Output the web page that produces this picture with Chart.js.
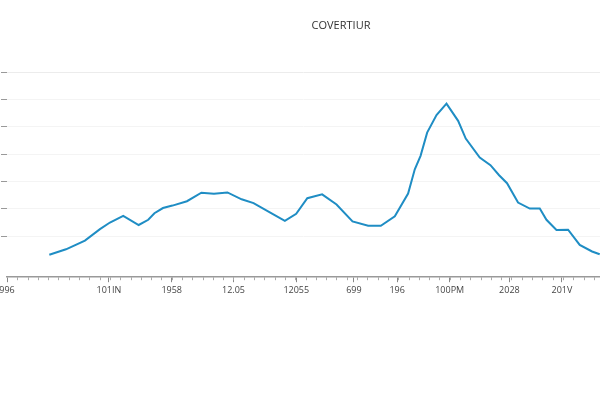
<!DOCTYPE html>
<html>
<head>
<meta charset="utf-8">
<title>COVERTIUR</title>
<script src="https://cdn.jsdelivr.net/npm/chart.js"></script>
<style>
  html, body { margin: 0; padding: 0; background: #fff; }
  #myChart { display: block; }
</style>
</head>
<body>
<canvas id="myChart" width="600" height="400"></canvas>
<script>
// x positions (axis units) and values
const xValues = [4.11, 5.73, 7.57, 9.03, 10.0, 11.29, 12.79, 13.72, 14.32, 15.15,
  16.07, 17.48, 18.88, 20.10, 21.41, 22.79, 23.95, 25.53, 26.99, 28.09,
  29.17, 30.61, 32.01, 33.56, 35.08, 36.31, 37.67, 38.96, 39.61, 40.17,
  40.81, 41.72, 42.69, 43.82, 44.56, 45.92, 46.96, 47.80, 48.57, 49.64,
  50.78, 51.75, 52.40, 53.37, 54.50, 55.63, 56.83, 57.57];
const yValues = [1.32, 1.52, 1.84, 2.26, 2.50, 2.74, 2.41, 2.60, 2.84, 3.03,
  3.12, 3.28, 3.59, 3.55, 3.60, 3.35, 3.21, 2.87, 2.56, 2.82,
  3.39, 3.53, 3.16, 2.54, 2.38, 2.38, 2.73, 3.56, 4.45, 4.94,
  5.79, 6.43, 6.85, 6.22, 5.57, 4.88, 4.60, 4.23, 3.94, 3.23,
  3.01, 3.01, 2.60, 2.23, 2.24, 1.68, 1.44, 1.34];

// tick labels on the x axis and where they sit
const tickLabels = ["996", "101IN", "1958", "12.05", "12055", "699", "196", "100PM", "2028", "201V"];
const tickPositions = [0, 9.9, 16.0, 22.0, 28.1, 33.7, 37.9, 43.0, 48.8, 53.9];
const yTicks = [2, 3, 4, 5, 6, 7, 8];

const points = xValues.map((x, i) => ({ x: x, y: yValues[i] }));

// short minor ticks along the x axis
const minorTicks = {
  id: "minorTicks",
  afterDraw(chart) {
    const xs = chart.scales.x;
    const c = chart.ctx;
    c.save();
    c.strokeStyle = "#aaa";
    c.lineWidth = 1;
    for (let v = 1; v <= Math.floor(xs.max); v++) {
      const px = Math.round(xs.getPixelForValue(v)) + 0.5;
      c.beginPath();
      c.moveTo(px, xs.top);
      c.lineTo(px, xs.top + 3);
      c.stroke();
    }
    c.restore();
  }
};

// title in the picture sits right of the plot centre
const shiftTitle = {
  id: "shiftTitle",
  afterLayout(chart) {
    if (chart.titleBlock) chart.titleBlock.left += 82;
  }
};

const ctx = document.getElementById("myChart").getContext("2d");
const myChart = new Chart(ctx, {
  type: "line",
  data: {
    datasets: [
      {
        label: "COVERTIUR",
        data: points,
        borderColor: "#1f8dc4",
        borderWidth: 2,
        pointRadius: 0,
        tension: 0,
        fill: false,
      },
    ],
  },
  options: {
    responsive: false,
    animation: false,
    layout: { padding: { left: 0, right: 0, top: 0, bottom: 101 } },
    plugins: {
      legend: { display: false },
      tooltip: { enabled: false },
      title: {
        display: true,
        text: "COVERTIUR",
        color: "#333",
        font: { family: "Open Sans", size: 11, weight: "normal" },
        padding: { top: 19, bottom: 40 },
      },
    },
    scales: {
      x: {
        type: "linear",
        position: "bottom",
        min: 0,
        max: 57.6,
        afterBuildTicks: (scale) => {
          scale.ticks = tickPositions.map((v) => ({ value: v }));
        },
        afterFit: (scale) => {
          scale.paddingLeft = 0;
          scale.paddingRight = 0;
        },
        ticks: {
          autoSkip: false,
          maxRotation: 0,
          padding: 3,
          color: "#444",
          font: { family: "Open Sans", size: 9 },
          callback: (value) => {
            const i = tickPositions.indexOf(value);
            return i >= 0 ? tickLabels[i] : "";
          },
        },
        grid: {
          drawOnChartArea: false,
          tickLength: 5,
          tickColor: "#888",
        },
        border: { color: "#999", width: 1.5 },
      },
      y: {
        type: "linear",
        position: "left",
        min: 0.5,
        max: 8,
        afterBuildTicks: (scale) => {
          scale.ticks = yTicks.map((v) => ({ value: v }));
        },
        afterFit: (scale) => {
          scale.width = 7;
        },
        ticks: { display: false },
        grid: {
          color: (c) => (c.tick && c.tick.value === 8 ? "#ececec" : "#f4f4f4"),
          tickColor: "#999",
          tickLength: 6,
        },
        border: { display: false },
      },
    },
  },
  plugins: [minorTicks, shiftTitle],
});
</script>
</body>
</html>
